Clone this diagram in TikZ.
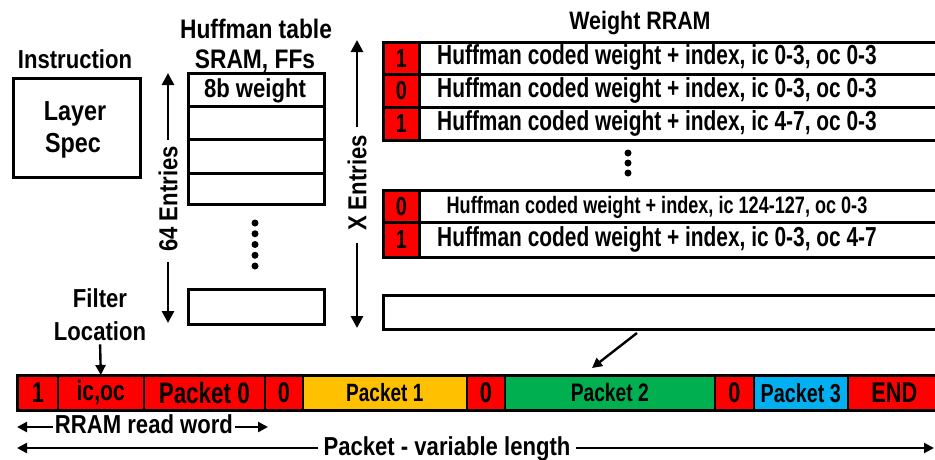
\documentclass[tikz,border=0pt]{standalone}
\usepackage{fontspec}
\setmainfont{Liberation Sans}[FakeStretch=0.85]
\newfontfamily\narrowfont{Liberation Sans}[FakeStretch=0.76]
\usetikzlibrary{arrows.meta}
\definecolor{cellred}{RGB}{255,0,0}
\definecolor{cellorange}{RGB}{255,192,0}
\definecolor{cellgreen}{RGB}{0,176,80}
\definecolor{cellblue}{RGB}{0,176,240}
\newcommand{\fsz}[1]{\bfseries\fontsize{#1}{#1}\selectfont}
\newcommand{\nfsz}[1]{\narrowfont\bfseries\fontsize{#1}{#1}\selectfont}
\tikzset{
  txt/.style={inner sep=0pt, font=\fsz{26}},
  box/.style={draw, line width=2.8pt, inner sep=0pt, anchor=north west},
  tbl/.style={box, minimum width=136},
  bitcell/.style={box, fill=cellred, minimum width=36, font=\nfsz{26}},
  rowcell/.style={box, minimum width=560},
  rowtxt/.style={inner sep=0pt, anchor=base, font=\nfsz{27.5}},
  pk/.style={draw, line width=1.6pt, inner sep=0pt, anchor=north west, minimum height=34, font=\nfsz{28.5}},
  arr/.style={line width=2.8pt, -{Triangle[length=12pt,width=12pt]}},
  sarr/.style={line width=2.4pt, -{Triangle[length=10pt,width=10pt]}},
  dot/.style={circle, fill, inner sep=0pt, minimum size=7},
}
\begin{document}
\begin{tikzpicture}[x=1pt,y=-1pt]
\useasboundingbox (0,0) rectangle (935,459);
\clip (0,0) rectangle (935,459);

% ---- instruction block
\node[txt, anchor=base] (instr) at (75,68) {Instruction};
\node[box, minimum width=127, minimum height=99] (spec) at (12,77) {};
\node[txt, anchor=base, font=\fsz{27.5}] (layer) at (75,120) {Layer};
\node[txt, anchor=base, font=\fsz{27.5}] (spectxt) at (73,152) {Spec};

% ---- Huffman table
\node[txt, anchor=base, font=\fsz{26.8}] (ht1) at (256,38) {Huffman table};
\node[txt, anchor=base, font=\fsz{26.8}] (ht2) at (255,68) {SRAM, FFs};
\node[tbl, minimum height=33] (h1) at (187,72) {};
\node[txt, anchor=base] (h1t) at (255,97) {8b weight};
\node[tbl, minimum height=33] (h2) at (187,105) {};
\node[tbl, minimum height=34] (h3) at (187,138) {};
\node[tbl, minimum height=31] (h4) at (187,172) {};
\foreach \yy [count=\k] in {223,233.75,244.5,255.25,266}
  \node[dot] (hd\k) at (255,\yy) {};
\node[tbl, minimum height=35] (hlast) at (187,288) {};

% ---- 64 entries
\coordinate (e64top) at (168,73);
\coordinate (e64bot) at (168,323);
\node[txt, rotate=90] (e64) at (168,199) {64 Entries};
\draw[arr, shorten <=6pt] (e64.east) -- (e64top);
\draw[arr, shorten <=10pt] (e64.west) -- (e64bot);

% ---- X entries
\coordinate (xtop) at (357,40);
\coordinate (xbot) at (357,328);
\node[txt, rotate=90] (xent) at (357,183) {X Entries};
\draw[arr, shorten <=8pt] (xent.east) -- (xtop);
\draw[arr, shorten <=12pt] (xent.west) -- (xbot);

% ---- Weight RRAM
\node[txt, anchor=base, font=\fsz{25.2}] (wr) at (640,29) {Weight RRAM};
\node[bitcell, minimum height=32] (b1) at (382,41) {1};
\node[rowcell, minimum height=32] (w1) at (418,41) {};
\node[rowtxt] (w1t) at (657,64) {Huffman coded weight + index, ic 0-3, oc 0-3};
\node[bitcell, minimum height=33] (b2) at (382,73) {0};
\node[rowcell, minimum height=33] (w2) at (418,73) {};
\node[rowtxt] (w2t) at (657,97) {Huffman coded weight + index, ic 0-3, oc 0-3};
\node[bitcell, minimum height=33] (b3) at (382,106) {1};
\node[rowcell, minimum height=33] (w3) at (418,106) {};
\node[rowtxt] (w3t) at (657,130) {Huffman coded weight + index, ic 4-7, oc 0-3};
\foreach \yy [count=\k] in {153,163,173}
  \node[dot] (wd\k) at (628,\yy) {};
\node[bitcell, minimum height=32] (b4) at (382,189) {0};
\node[rowcell, minimum height=32] (w4) at (418,189) {};
\node[rowtxt, font=\nfsz{23.8}] (w4t) at (657,213) {Huffman coded weight + index, ic 124-127, oc 0-3};
\node[bitcell, minimum height=35] (b5) at (382,221) {1};
\node[rowcell, minimum height=35] (w5) at (418,221) {};
\node[rowtxt] (w5t) at (657,246) {Huffman coded weight + index, ic 0-3, oc 4-7};
\node[box, minimum width=596, minimum height=34] (wempty) at (382,294) {};

% ---- filter location
\node[txt, anchor=base] (filt) at (100,307) {Filter};
\node[txt, anchor=base] (loc) at (100,340) {Location};

% ---- packet bar
\node[pk, fill=cellred, minimum width=40] (c1) at (17,375) {1};
\node[pk, fill=cellred, minimum width=86, font=\nfsz{28}] (icoc) at (57,375) {ic,oc};
\node[pk, fill=cellred, minimum width=121, font=\nfsz{29.5}] (p0) at (143,375) {Packet 0};
\node[pk, fill=cellred, minimum width=38] (z1) at (264,375) {0};
\node[pk, fill=cellorange, minimum width=164, font=\nfsz{25}] (p1) at (302,375) {Packet 1};
\node[pk, fill=cellred, minimum width=38] (z2) at (466,375) {0};
\node[pk, fill=cellgreen, minimum width=210, font=\nfsz{25.3}] (p2) at (504,375) {Packet 2};
\node[pk, fill=cellred, minimum width=39] (z3) at (714,375) {0};
\node[pk, fill=cellblue, minimum width=94, font=\nfsz{26}] (p3) at (753,375) {Packet 3};
\node[pk, fill=cellred, minimum width=93] (pend) at (847,375) {END};
\draw[line width=3pt] (c1.north west) rectangle (pend.south east);

\draw[sarr, shorten <=4pt] (loc.south) -- (icoc.north);
\coordinate (dstart) at (637,333);
\coordinate (dend) at (592,368);
\draw[sarr] (dstart) -- (dend);

% ---- read word and packet length
\node[txt, anchor=base] (rrw) at (144,433) {RRAM read word};
\coordinate (rrwL) at (17,427);
\coordinate (rrwR) at (268,427);
\draw[sarr, shorten <=2pt] (rrw.west |- rrwL) -- (rrwL);
\draw[sarr, shorten <=2pt] (rrw.east |- rrwR) -- (rrwR);

\node[txt, anchor=base] (pvl) at (447,455) {Packet - variable length};
\coordinate (pvlL) at (17,448);
\coordinate (pvlR) at (934,448);
\draw[sarr, shorten <=5pt] (pvl.west |- pvlL) -- (pvlL);
\draw[sarr, shorten <=5pt] (pvl.east |- pvlR) -- (pvlR);
\end{tikzpicture}
\end{document}
